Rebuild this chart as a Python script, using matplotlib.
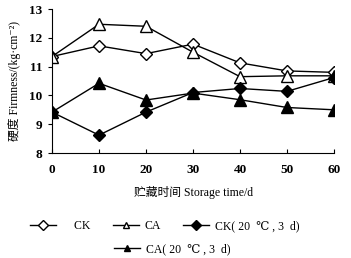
import matplotlib
matplotlib.use("Agg")
import matplotlib.pyplot as plt

plt.rcParams['font.family'] = ['Liberation Serif', 'DejaVu Serif', 'Noto Sans CJK SC']

days = [0, 10, 20, 30, 40, 50, 60]
ck = [11.35, 11.72, 11.45, 11.78, 11.13, 10.85, 10.8]
ca = [11.35, 12.47, 12.4, 11.5, 10.65, 10.68, 10.68]
ck20 = [9.42, 8.62, 9.42, 10.1, 10.24, 10.14, 10.62]
ca20 = [9.42, 10.42, 9.84, 10.08, 9.85, 9.58, 9.5]

fig = plt.figure(figsize=(3.51, 2.58), dpi=100)
ax = fig.add_axes([52/351, 1-153/258, 282/351, 144/258])

ax.plot(days, ck, '-', color='k', lw=1, marker='D', ms=6, mfc='white', mec='k', mew=1)
ax.plot(days, ca, '-', color='k', lw=1, marker='^', ms=8, mfc='white', mec='k', mew=1)
ax.plot(days, ck20, '-', color='k', lw=1, marker='D', ms=6, mfc='k', mec='k')
ax.plot(days, ca20, '-', color='k', lw=1, marker='^', ms=8, mfc='k', mec='k')

ax.set_xlim(0, 60)
ax.set_ylim(8, 13)
ax.set_xticks(days)
ax.set_yticks([8, 9, 10, 11, 12, 13])
ax.spines['top'].set_visible(False)
ax.spines['right'].set_visible(False)
ax.tick_params(axis='x', direction='in', length=3, labelsize=9.5, pad=8)
ax.tick_params(axis='y', direction='out', length=3, labelsize=9.5, pad=4)
for t in ax.get_xticklabels() + ax.get_yticklabels():
    t.set_fontweight('bold')
ax.set_xlabel('贮藏时间 Storage time/d', fontsize=8.5, labelpad=7)
ax.set_ylabel('硬度 Firmness/(kg·cm⁻²)', fontsize=8.5, labelpad=6)

h1, = plt.plot([], [], '-', color='k', lw=1, marker='D', mfc='white', mec='k', ms=5)
h2, = plt.plot([], [], '-', color='k', lw=1, marker='^', mfc='white', mec='k', ms=4)
h3, = plt.plot([], [], '-', color='k', lw=1, marker='D', mfc='k', mec='k', ms=5)
h4, = plt.plot([], [], '-', color='k', lw=1, marker='^', mfc='k', mec='k', ms=4)

fig.legend([h1, h2, h3], ['    CK', 'CA', 'CK( 20  ℃ , 3  d)'],
           loc='center', bbox_to_anchor=(0.47, 1-226/258), ncol=3,
           frameon=False, fontsize=8.5, handlelength=2.2, columnspacing=1.9,
           handletextpad=0.5)
fig.legend([h4], ['CA( 20  ℃ , 3  d)'],
           loc='center', bbox_to_anchor=(0.49, 1-249/258), ncol=1,
           frameon=False, fontsize=8.5, handlelength=2.2, handletextpad=0.5)

fig.savefig('out.png', dpi=100)
